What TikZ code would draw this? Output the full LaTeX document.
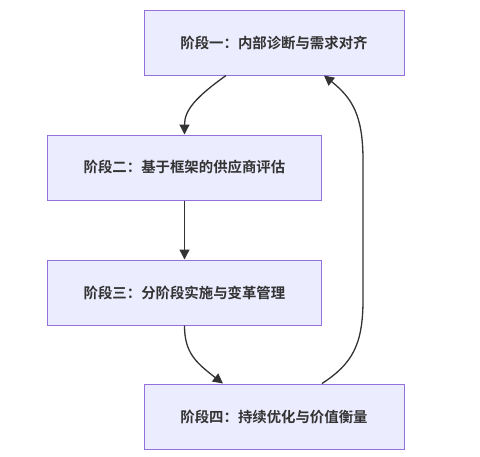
\documentclass[tikz,border=0pt]{standalone}
\usepackage{fontspec}
\setmainfont{Noto Sans CJK SC}[BoldFont={Noto Sans CJK SC Bold}]
\usetikzlibrary{arrows.meta}
\definecolor{boxfill}{HTML}{ECECFF}
\definecolor{boxline}{HTML}{9370DB}
\definecolor{ink}{HTML}{333333}
\tikzset{
  stagebox/.style={draw=boxline, fill=boxfill, line width=1pt, minimum height=65pt,
    inner sep=0pt, text=ink, font=\fontsize{14.4}{16}\selectfont\bfseries},
  flow/.style={draw=ink, line width=1.3pt, -{Triangle[length=10pt,width=10pt]}}
}
\begin{document}
\begin{tikzpicture}[x=1pt,y=-1pt]
\useasboundingbox (0,0) rectangle (480,456);
\node[stagebox, minimum width=260pt] (n1) at (274,42.5) {阶段一：内部诊断与需求对齐};
\node[stagebox, minimum width=274pt] (n2) at (184.5,167.5) {阶段二：基于框架的供应商评估};
\node[stagebox, minimum width=274pt] (n3) at (184.5,292.5) {阶段三：分阶段实施与变革管理};
\node[stagebox, minimum width=260pt] (n4) at (274,416.5) {阶段四：持续优化与价值衡量};
\draw[flow] ([xshift=-48pt]n1.south) .. controls (196,97) and (184.5,110) .. (n2.north);
\draw[flow] (n2.south) -- (n3.north);
\draw[flow] (n3.south) .. controls (184.5,352) and (195,362) .. ([xshift=-51pt]n4.north);
\draw[flow] ([xshift=48pt]n4.north) .. controls (352,364) and (363,345) .. (363,300)
  -- (363,160) .. controls (363,115) and (352,98) .. ([xshift=50pt]n1.south);
\end{tikzpicture}
\end{document}
